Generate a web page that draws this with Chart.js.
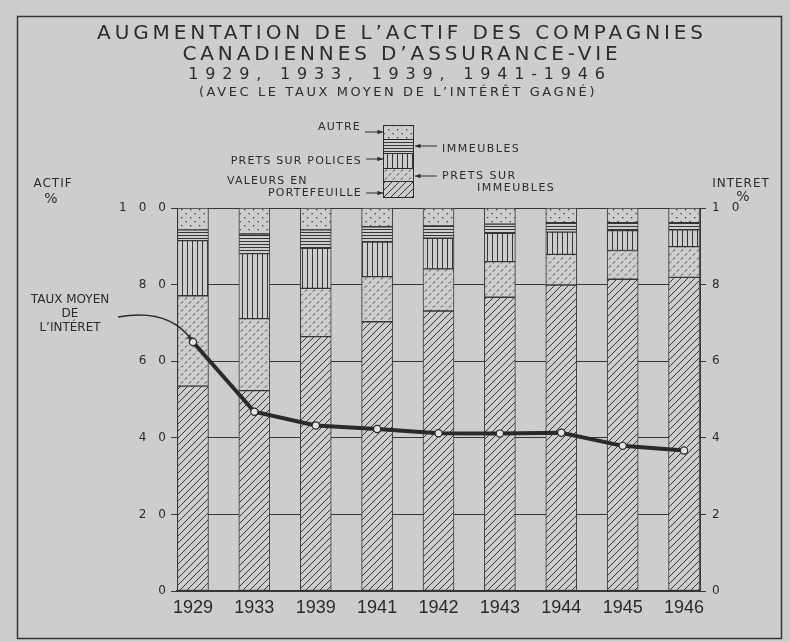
<!DOCTYPE html>
<html>
<head>
<meta charset="utf-8">
<script src="https://cdn.jsdelivr.net/npm/chart.js@4.4.1/dist/chart.umd.min.js"></script>
<style>
  html, body { margin: 0; padding: 0; background: #cdcdcd; }
  canvas { display: block; }
</style>
</head>
<body>
<canvas id="graficoActif" width="790" height="642"></canvas>
<script>
// données (% de l'actif)
var annees = ['1929', '1933', '1939', '1941', '1942', '1943', '1944', '1945', '1946'];
var valeursPortefeuille = [53.5, 52.3, 66.4, 70.3, 73.1, 76.7, 79.9, 81.4, 81.9];
var pretsImmeubles = [23.6, 18.8, 12.6, 11.8, 11.0, 9.3, 8.0, 7.5, 8.0];
var pretsPolices = [14.4, 17.0, 10.5, 9.0, 8.0, 7.4, 5.8, 5.2, 4.4];
var immeubles = [2.8, 5.1, 4.8, 4.0, 3.2, 2.4, 2.5, 2.1, 1.9];
var autre = [5.7, 6.8, 5.7, 4.9, 4.7, 4.2, 3.8, 3.8, 3.8];
var tauxInteret = [6.5, 4.68, 4.32, 4.23, 4.12, 4.11, 4.13, 3.79, 3.67];
var ticksActif = [0, 20, 40, 60, 80, 100];
var ticksInteret = [0, 2, 4, 6, 8, 10];

var fond = '#cdcdcd';
var encre = '#363636';
var ctx = document.getElementById('graficoActif').getContext('2d');

function motif(w, h, dessin) {
  var c = document.createElement('canvas');
  c.width = w;
  c.height = h;
  var g = c.getContext('2d');
  g.fillStyle = fond;
  g.fillRect(0, 0, w, h);
  g.strokeStyle = encre;
  g.fillStyle = encre;
  g.lineWidth = 1;
  dessin(g);
  return ctx.createPattern(c, 'repeat');
}

var hachures = motif(7, 7, function (g) {
  g.beginPath();
  g.moveTo(0, 7); g.lineTo(7, 0);
  g.moveTo(-1, 1); g.lineTo(1, -1);
  g.moveTo(6, 8); g.lineTo(8, 6);
  g.stroke();
});
var tirets = motif(8, 8, function (g) {
  g.beginPath();
  g.moveTo(1, 3.5); g.lineTo(3, 1.5);
  g.moveTo(5, 7.5); g.lineTo(7, 5.5);
  g.stroke();
});
var verticales = motif(5, 4, function (g) {
  g.fillRect(2, 0, 1, 4);
});
var horizontales = motif(4, 3, function (g) {
  g.fillRect(0, 1, 4, 1);
});
var points = motif(9, 8, function (g) {
  g.fillRect(1, 1, 1.3, 1.3);
  g.fillRect(5.5, 5, 1.3, 1.3);
});

function serie(valeurs) {
  return valeurs.map(function (v, i) { return { x: i, y: v }; });
}

function barres(nom, valeurs, fill) {
  return {
    type: 'bar',
    label: nom,
    data: serie(valeurs),
    backgroundColor: fill,
    borderColor: encre,
    borderWidth: 1,
    borderSkipped: false,
    barThickness: 31,
    stack: 'actif',
    yAxisID: 'y'
  };
}

function espacer(v) {
  return String(v).split('').join('\u2003');
}

function fleche(c, x1, y1, x2, y2) {
  var a = Math.atan2(y2 - y1, x2 - x1);
  c.beginPath();
  c.moveTo(x1, y1);
  c.lineTo(x2, y2);
  c.stroke();
  c.beginPath();
  c.moveTo(x2, y2);
  c.lineTo(x2 - 6 * Math.cos(a - 0.4), y2 - 6 * Math.sin(a - 0.4));
  c.lineTo(x2 - 6 * Math.cos(a + 0.4), y2 - 6 * Math.sin(a + 0.4));
  c.closePath();
  c.fill();
}

function texte(c, t, x, y, font, align, espace) {
  c.font = font;
  c.textAlign = align;
  c.textBaseline = 'middle';
  c.letterSpacing = espace + 'px';
  c.fillText(t, x, y);
  c.letterSpacing = '0px';
}

var decor = {
  id: 'decor',
  beforeDraw: function (chart) {
    var c = chart.ctx;
    c.save();
    c.fillStyle = fond;
    c.fillRect(0, 0, chart.width, chart.height);
    c.strokeStyle = encre;
    c.lineWidth = 1.5;
    c.strokeRect(17.5, 16.5, 764, 622);
    c.restore();
  },
  afterDraw: function (chart) {
    var c = chart.ctx;
    c.save();
    c.fillStyle = '#2c2c2c';
    c.strokeStyle = '#2c2c2c';

    // titres
    texte(c, 'AUGMENTATION DE L\u2019ACTIF DES COMPAGNIES', 402, 34, '20px "DejaVu Sans"', 'center', 3.9);
    texte(c, 'CANADIENNES D\u2019ASSURANCE-VIE', 402, 55, '20px "DejaVu Sans"', 'center', 3.9);
    texte(c, '1929, 1933, 1939, 1941-1946', 400, 75, '16px "DejaVu Sans"', 'center', 6.8);
    texte(c, '(AVEC LE TAUX MOYEN DE L\u2019INTÉRÊT GAGNÉ)', 398, 93, '13px "DejaVu Sans"', 'center', 2.6);

    // légende : boîte à motifs
    var cases = [[125, 139, points], [139, 153, horizontales], [153, 168, verticales], [168, 181, tirets], [181, 197, hachures]];
    c.lineWidth = 1;
    cases.forEach(function (k) {
      c.fillStyle = k[2];
      c.fillRect(383, k[0], 31, k[1] - k[0]);
      c.strokeRect(383.5, k[0] + 0.5, 30, k[1] - k[0]);
    });
    c.fillStyle = '#2c2c2c';
    var fl = '11px "DejaVu Sans"';
    texte(c, 'AUTRE', 361, 127, fl, 'right', 1.2);
    texte(c, 'IMMEUBLES', 442, 149, fl, 'left', 1.5);
    texte(c, 'PRETS SUR POLICES', 362, 161, fl, 'right', 1.2);
    texte(c, 'VALEURS EN', 227, 181, fl, 'left', 1.2);
    texte(c, 'PORTEFEUILLE', 362, 193, fl, 'right', 1.2);
    texte(c, 'PRETS SUR', 442, 176, fl, 'left', 1.5);
    texte(c, 'IMMEUBLES', 477, 188, fl, 'left', 1.5);
    c.lineWidth = 1;
    fleche(c, 365, 132, 383, 132);
    fleche(c, 437, 146, 415, 146);
    fleche(c, 366, 159, 383, 159);
    fleche(c, 437, 176, 415, 176);
    fleche(c, 366, 193, 383, 193);

    // titres des axes
    var fa = '12px "DejaVu Sans"';
    texte(c, 'ACTIF', 53, 184, fa, 'center', 1);
    texte(c, '%', 51, 199, '14px "DejaVu Sans"', 'center', 0);
    texte(c, 'INTERET', 741, 184, fa, 'center', 1);
    texte(c, '%', 743, 197, '14px "DejaVu Sans"', 'center', 0);

    // renvoi vers la courbe du taux
    texte(c, 'TAUX MOYEN', 70, 300, fa, 'center', 0);
    texte(c, 'DE', 70, 314, fa, 'center', 0);
    texte(c, 'L\u2019INTÉRET', 70, 328, fa, 'center', 0);
    var p = chart.getDatasetMeta(0).data[0];
    c.lineWidth = 1.5;
    c.beginPath();
    c.moveTo(118, 317);
    c.quadraticCurveTo(168, 308, p.x - 2, p.y - 3);
    c.stroke();
    c.beginPath();
    c.moveTo(p.x - 6, p.y - 4); c.lineTo(p.x + 0, p.y - 4);
    c.moveTo(p.x - 3, p.y - 7); c.lineTo(p.x - 3, p.y - 1);
    c.stroke();
    c.restore();
  }
};

var config = {
  data: {
    datasets: [
      {
        type: 'line',
        label: 'Taux moyen de l\u2019intérêt',
        data: serie(tauxInteret),
        yAxisID: 'y2',
        order: -1,
        borderColor: '#2a2a2a',
        borderWidth: 4,
        tension: 0,
        pointRadius: 3.6,
        pointBackgroundColor: '#e4e4e4',
        pointBorderColor: '#2a2a2a',
        pointBorderWidth: 1.2,
        clip: false
      },
      barres('Valeurs en portefeuille', valeursPortefeuille, hachures),
      barres('Prêts sur immeubles', pretsImmeubles, tirets),
      barres('Prêts sur polices', pretsPolices, verticales),
      barres('Immeubles', immeubles, horizontales),
      barres('Autre', autre, points)
    ]
  },
  options: {
    responsive: false,
    animation: false,
    layout: { padding: { top: 208, left: 0, right: 0, bottom: 0 } },
    plugins: {
      legend: { display: false },
      title: { display: false },
      tooltip: { enabled: false }
    },
    scales: {
      x: {
        type: 'linear',
        stacked: true,
        offset: false,
        min: -0.26,
        max: 8.26,
        grid: { display: false, drawTicks: false, offset: false },
        border: { display: true, color: encre, width: 1.5 },
        afterBuildTicks: function (s) {
          s.ticks = annees.map(function (a, i) { return { value: i }; });
        },
        afterFit: function (s) { s.height = 51; },
        ticks: {
          color: '#2a2a2a',
          padding: 6,
          maxRotation: 0,
          autoSkip: false,
          font: { family: 'Liberation Sans', size: 18 },
          callback: function (v) { return annees[v]; }
        }
      },
      y: {
        position: 'left',
        stacked: true,
        min: 0,
        max: 100,
        grid: { color: encre, lineWidth: 1, tickLength: 6 },
        border: { display: true, color: encre, width: 1 },
        afterBuildTicks: function (s) {
          s.ticks = ticksActif.map(function (v) { return { value: v }; });
        },
        afterFit: function (s) { s.width = 177; },
        ticks: {
          color: '#2a2a2a',
          padding: 5,
          font: { family: 'DejaVu Sans', size: 12 },
          callback: function (v) { return espacer(v); }
        }
      },
      y2: {
        position: 'right',
        min: 0,
        max: 10,
        grid: { drawOnChartArea: false, color: encre, tickLength: 6 },
        border: { display: true, color: encre, width: 1 },
        afterBuildTicks: function (s) {
          s.ticks = ticksInteret.map(function (v) { return { value: v }; });
        },
        afterFit: function (s) { s.width = 90; },
        ticks: {
          color: '#2a2a2a',
          padding: 6,
          font: { family: 'DejaVu Sans', size: 12 },
          callback: function (v) { return espacer(v); }
        }
      }
    }
  },
  plugins: [decor]
};

var myChart = new Chart(ctx, config);
</script>
</body>
</html>
